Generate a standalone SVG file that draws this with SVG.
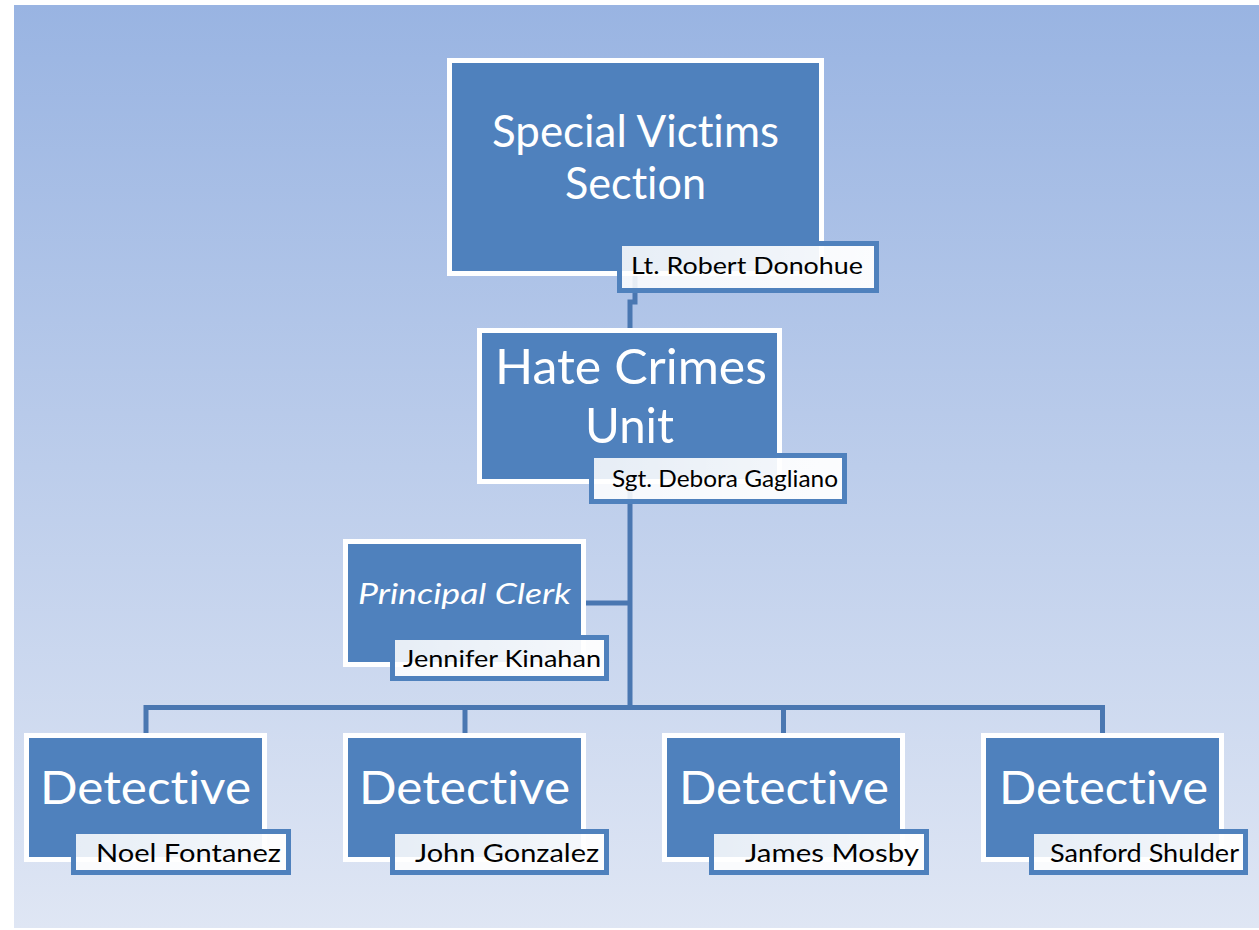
<svg xmlns="http://www.w3.org/2000/svg" width="1259" height="930" viewBox="0 0 1259 930">
<style>
.box{fill:#4f81bd;stroke:#ffffff;stroke-width:5}
.nb{fill:url(#nameFill);stroke:#4f81bd;stroke-width:5}
.t{font-family:Lato,"Liberation Sans",sans-serif;fill:#ffffff;font-variant-ligatures:none;font-feature-settings:"liga" 0,"dlig" 0}
.n{font-family:Lato,"Liberation Sans",sans-serif;fill:#000000;font-variant-ligatures:none;font-feature-settings:"liga" 0,"dlig" 0}
.c{fill:none;stroke:#4a77b1;stroke-width:5}
</style>
<defs>
<linearGradient id="bg" x1="0" y1="0" x2="0" y2="1">
<stop offset="0" stop-color="#99b4e2"/>
<stop offset="1" stop-color="#dfe6f4"/>
</linearGradient>
<linearGradient id="nameFill" x1="0" y1="0" x2="1" y2="0">
<stop offset="0" stop-color="#ffffff" stop-opacity="0.86"/>
<stop offset="1" stop-color="#ffffff" stop-opacity="0.95"/>
</linearGradient>
</defs>
<rect x="0" y="0" width="1259" height="930" fill="#ffffff"/>
<rect x="14" y="5" width="1245" height="923" fill="url(#bg)"/>
<g id="connectors">
<path class="c" d="M635 276 V302 H630 V330"/>
<path class="c" d="M630 484 V707.5"/>
<path class="c" d="M584 603 H630"/>
<path class="c" d="M146 735 V707.5 H1102.5 V735"/>
<path class="c" d="M465 707.5 V735"/>
<path class="c" d="M783.5 707.5 V735"/>
</g>
<g id="special-victims">
<rect class="box" x="449.5" y="60.5" width="372" height="213"/>
<text class="t" font-size="44" x="492" y="147" textLength="287" lengthAdjust="spacingAndGlyphs">Special Victims</text>
<text class="t" font-size="44" x="565" y="199" textLength="141" lengthAdjust="spacingAndGlyphs">Section</text>
<rect class="nb" x="619.5" y="243.5" width="257" height="47"/>
<text class="n" font-size="24" x="631" y="274" textLength="232" lengthAdjust="spacingAndGlyphs">Lt. Robert Donohue</text>
</g>
<g id="hate-crimes">
<rect class="box" x="479.5" y="330.5" width="300" height="151"/>
<text class="t" font-size="49" x="495" y="384" textLength="272" lengthAdjust="spacingAndGlyphs">Hate Crimes</text>
<text class="t" font-size="49" x="585" y="443" textLength="89" lengthAdjust="spacingAndGlyphs">Unit</text>
<rect class="nb" x="591.5" y="455.5" width="253" height="46"/>
<text class="n" font-size="23" x="612" y="487" textLength="226" lengthAdjust="spacingAndGlyphs">Sgt. Debora Gagliano</text>
</g>
<g id="principal-clerk">
<rect class="box" x="345.5" y="541.5" width="238" height="123"/>
<text class="t" font-size="29" font-style="italic" x="358" y="604" textLength="213" lengthAdjust="spacingAndGlyphs">Principal Clerk</text>
<rect class="nb" x="392.5" y="637.5" width="214" height="41"/>
<text class="n" font-size="24" x="403" y="667" textLength="198" lengthAdjust="spacingAndGlyphs">Jennifer Kinahan</text>
</g>
<g id="detective-1">
<rect class="box" x="26.5" y="735.5" width="238" height="124"/>
<text class="t" font-size="46" x="40" y="804" textLength="211" lengthAdjust="spacingAndGlyphs">Detective</text>
<rect class="nb" x="73.5" y="831.5" width="215" height="41"/>
<text class="n" font-size="25" x="96" y="862" textLength="185" lengthAdjust="spacingAndGlyphs">Noel Fontanez</text>
</g>
<g id="detective-2">
<rect class="box" x="345.5" y="735.5" width="238" height="124"/>
<text class="t" font-size="46" x="359" y="804" textLength="211" lengthAdjust="spacingAndGlyphs">Detective</text>
<rect class="nb" x="392.5" y="831.5" width="214" height="41"/>
<text class="n" font-size="25" x="415" y="862" textLength="184" lengthAdjust="spacingAndGlyphs">John Gonzalez</text>
</g>
<g id="detective-3">
<rect class="box" x="664.5" y="735.5" width="238" height="124"/>
<text class="t" font-size="46" x="679" y="804" textLength="210" lengthAdjust="spacingAndGlyphs">Detective</text>
<rect class="nb" x="711.5" y="831.5" width="215" height="41"/>
<text class="n" font-size="25" x="745" y="862" textLength="174" lengthAdjust="spacingAndGlyphs">James Mosby</text>
</g>
<g id="detective-4">
<rect class="box" x="983.5" y="735.5" width="238" height="124"/>
<text class="t" font-size="46" x="999" y="804" textLength="209" lengthAdjust="spacingAndGlyphs">Detective</text>
<rect class="nb" x="1031.5" y="831.5" width="214" height="41"/>
<text class="n" font-size="25" x="1050" y="862" textLength="189" lengthAdjust="spacingAndGlyphs">Sanford Shulder</text>
</g>
</svg>
